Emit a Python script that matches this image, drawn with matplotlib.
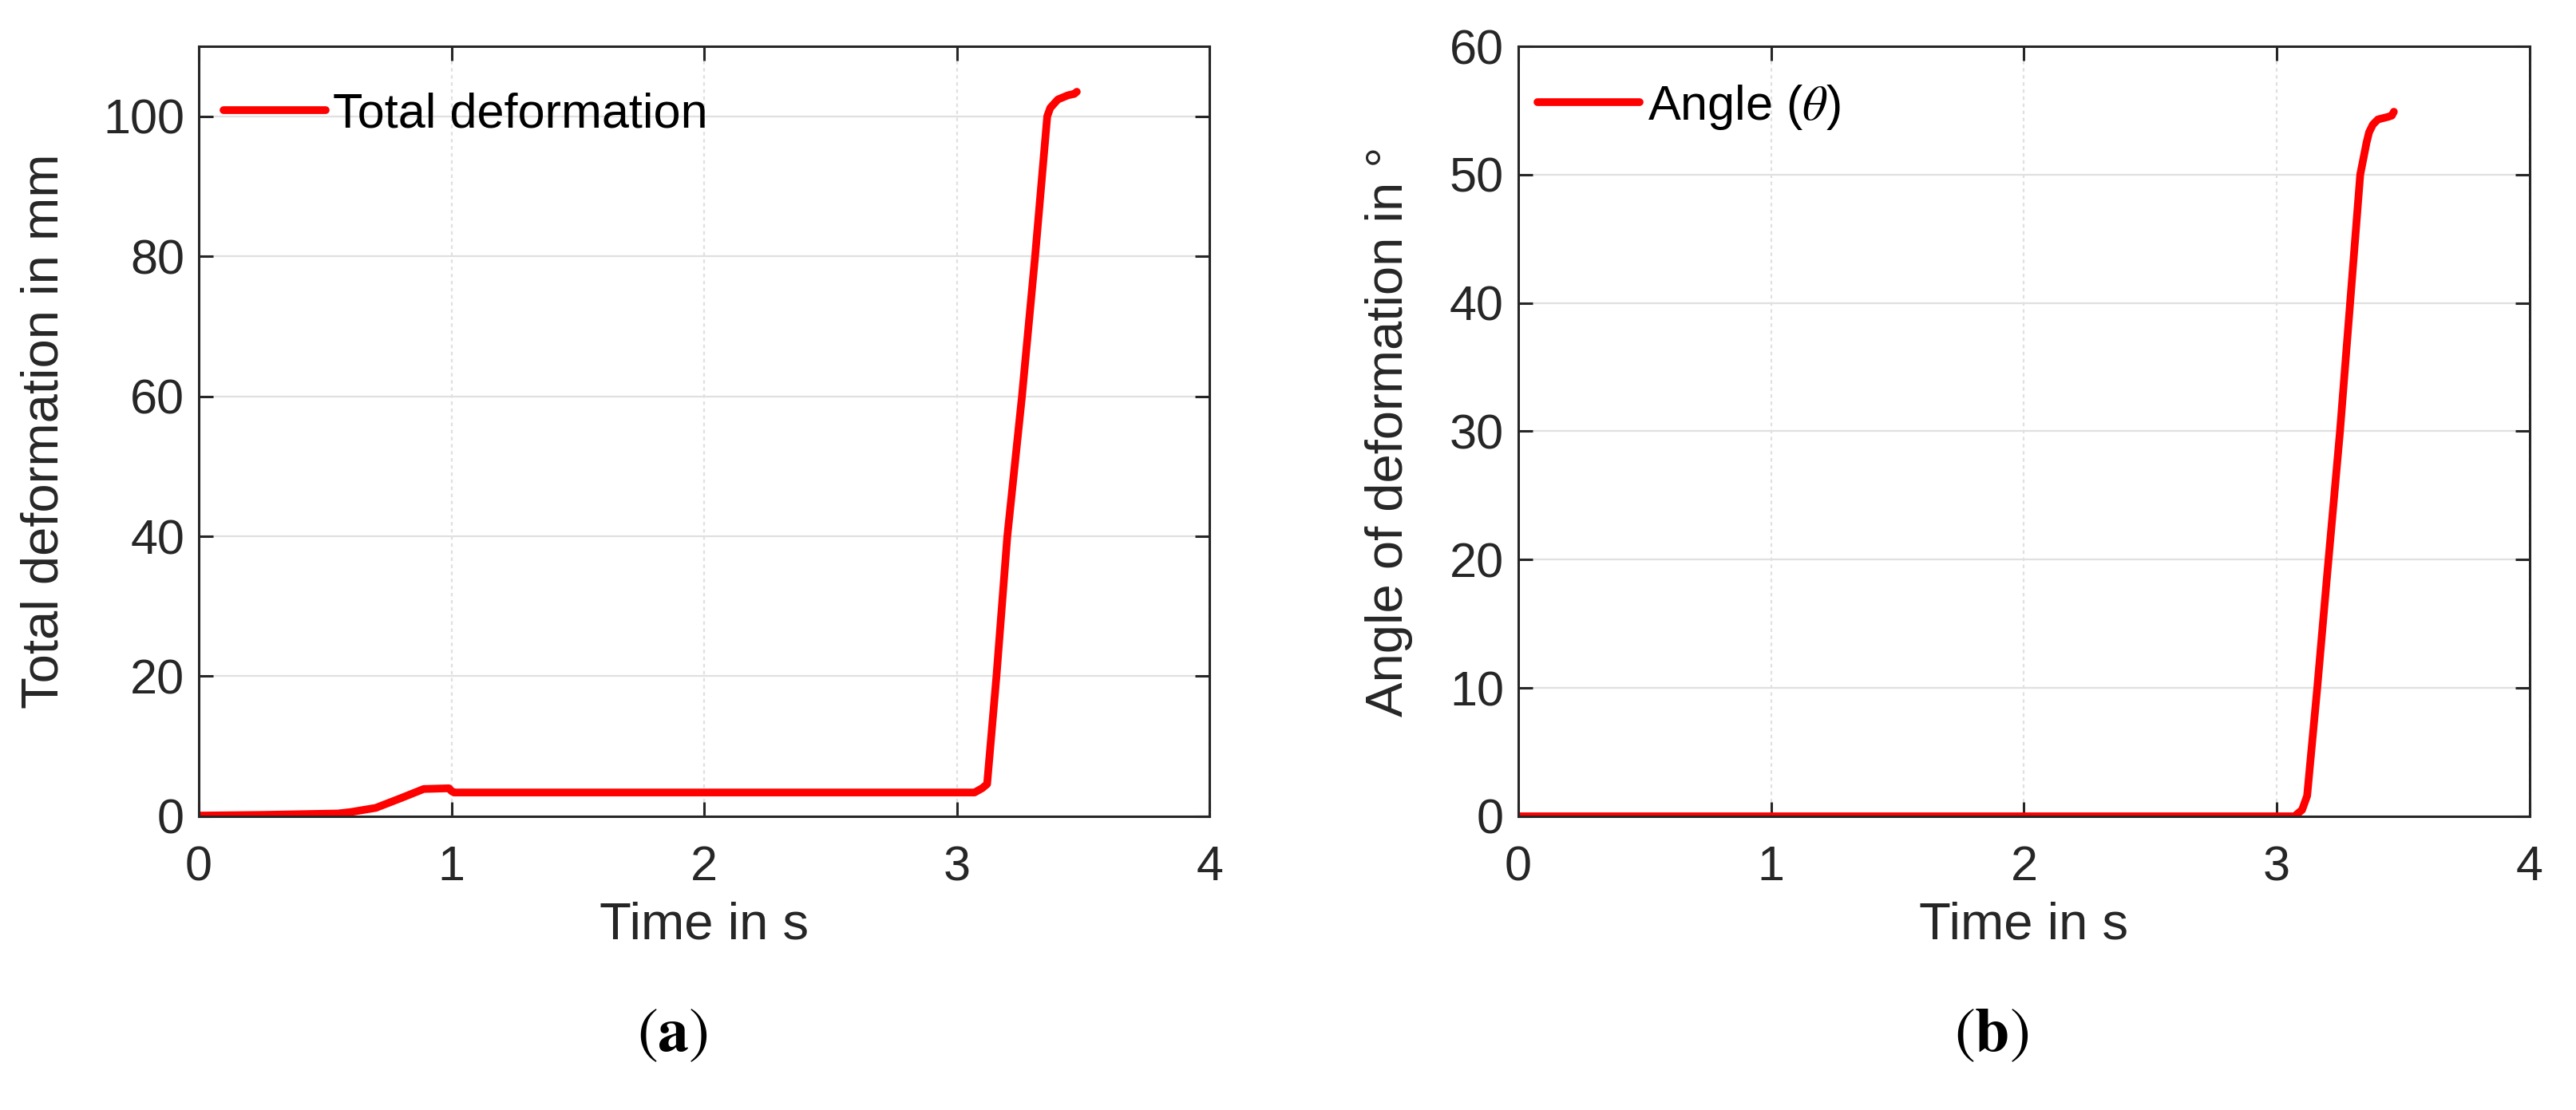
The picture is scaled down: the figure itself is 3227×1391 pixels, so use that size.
import matplotlib
matplotlib.use("Agg")
import matplotlib.pyplot as plt

# data
# (a) total deformation in mm
waktu_a = [0, 0.25, 0.55, 0.6, 0.7, 0.8, 0.89, 0.99, 1.0, 1.01, 3.07, 3.10, 3.12,
           3.157, 3.20, 3.258, 3.31, 3.358, 3.37, 3.40, 3.44, 3.465, 3.475]
deformasi = [0.1, 0.2, 0.4, 0.6, 1.2, 2.6, 3.9, 4.0, 3.6, 3.4, 3.4, 4.0, 4.6,
             20, 40, 60, 80, 100, 101.2, 102.4, 103.0, 103.2, 103.5]

# (b) angle of deformation in degree
waktu_b = [0, 3.07, 3.10, 3.12, 3.16, 3.20, 3.25, 3.29, 3.33, 3.355, 3.365,
           3.38, 3.40, 3.44, 3.455, 3.463]
sudut = [0, 0, 0.5, 1.6, 10, 19, 30, 40, 50, 52.5, 53.3, 53.9, 54.3, 54.5, 54.6, 54.9]

xticks = [0, 1, 2, 3, 4]
yticks_a = [0, 20, 40, 60, 80, 100]
yticks_b = [0, 10, 20, 30, 40, 50, 60]

plt.rcParams['font.family'] = ['Liberation Sans', 'DejaVu Sans']
plt.rcParams['mathtext.fontset'] = 'stix'

abu = '#262626'

fig = plt.figure(figsize=(32.27, 13.91), dpi=100)
ax1 = fig.add_axes([0.0772, 0.2646, 0.3923, 0.6937])
ax2 = fig.add_axes([0.5894, 0.2646, 0.3926, 0.6937])


def atur_sumbu(ax, yticks, ymax, ylabel, xlabel_x):
    ax.set_xlim(0, 4)
    ax.set_ylim(0, ymax)
    ax.set_xticks(xticks)
    ax.set_yticks(yticks)
    ax.tick_params(direction='in', length=13, width=2.2, colors=abu,
                   labelsize=44, top=True, right=True)
    ax.tick_params(axis='x', pad=26)
    ax.tick_params(axis='y', pad=13)
    for s in ax.spines.values():
        s.set_linewidth(2.2)
        s.set_color(abu)
    # grid: horizontal solid, vertical looks dotted
    ax.yaxis.grid(True, color='#e0e0e0', lw=1.6, ls='-')
    ax.xaxis.grid(True, color='#e0e0e0', lw=1.6, ls=(0, (2, 2)))
    ax.set_axisbelow(True)
    ax.set_xlabel('Time in s', fontsize=47, color=abu, labelpad=10)
    ax.set_ylabel(ylabel, fontsize=47, color=abu)
    ax.yaxis.set_label_coords(xlabel_x, 0.5)


ax1.plot(waktu_a, deformasi, color='#ff0000', lw=7, solid_capstyle='round',
         solid_joinstyle='round', label='Total deformation')
atur_sumbu(ax1, yticks_a, 110, 'Total deformation in mm', -0.129)

ax2.plot(waktu_b, sudut, color='#ff0000', lw=7, solid_capstyle='round',
         solid_joinstyle='round', label=r'Angle ($\theta$)')
atur_sumbu(ax2, yticks_b, 60, 'Angle of deformation in °', -0.104)

# legend tanpa bingkai, posisinya diambil dari gambar
for ax, posisi in ((ax1, (0.024, 0.911)), (ax2, (0.019, 0.921))):
    ax.legend(loc='center left', bbox_to_anchor=posisi, frameon=False,
              fontsize=44, handlelength=2.1, handletextpad=0.15,
              borderaxespad=0, borderpad=0)

# caption under each panel
fig.text(0.261, 0.068, r'$(\mathbf{a})$', fontsize=56, ha='center', va='center')
fig.text(0.773, 0.068, r'$(\mathbf{b})$', fontsize=56, ha='center', va='center')

fig.savefig('out.png', dpi=100)
